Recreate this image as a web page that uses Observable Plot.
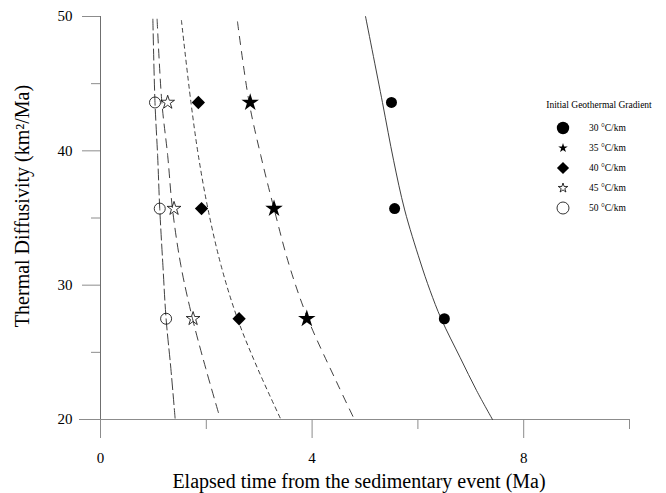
<!DOCTYPE html>
<html><head><meta charset="utf-8">
<script src="https://cdn.jsdelivr.net/npm/d3@7"></script>
<script src="https://cdn.jsdelivr.net/npm/@observablehq/plot@0.6"></script>
<style>
body{margin:0;background:#fff;}
#wrap{position:relative;width:666px;height:493px;}
#legend{position:absolute;left:540px;top:95px;}
</style></head><body><div id="wrap"></div>
<script>
// Measured points: thermal diffusivity (km²/Ma) vs elapsed time (Ma)
const diffusivity = [43.6, 35.7, 27.5];
const gradientLabels = ["30 °C/km", "35 °C/km", "40 °C/km", "45 °C/km", "50 °C/km"];
const time30 = [5.50, 5.56, 6.50];
const time35 = [2.83, 3.28, 3.90];
const time40 = [1.85, 1.91, 2.62];
const time45 = [1.27, 1.39, 1.75];
const time50 = [1.03, 1.12, 1.24];

// Model curves
const curveKappa30 = [50, 43.6, 39.3, 35.6, 31.8, 29.6, 27.5, 24.6, 22.15, 20];
const curveTime30  = [5.01, 5.33, 5.54, 5.75, 6.04, 6.23, 6.44, 6.80, 7.11, 7.41];
const curveKappa35 = [49.6, 43.6, 39.65, 35.7, 31.45, 27.5, 22.9, 20];
const curveTime35  = [2.59, 2.81, 3.03, 3.28, 3.57, 3.92, 4.45, 4.8];
const curveKappa40 = [49.7, 43.6, 39.65, 35.7, 31.45, 27.5, 23.8, 20];
const curveTime40  = [1.53, 1.71, 1.85, 2.03, 2.28, 2.59, 2.97, 3.41];
const curveKappa45 = [49.8, 43.6, 39.65, 35.7, 31.45, 27.5, 23.8, 20.5];
const curveTime45  = [1.07, 1.16, 1.27, 1.36, 1.52, 1.74, 1.99, 2.23];
const curveKappa50 = [49.8, 43.6, 39.65, 35.7, 31.45, 27.5, 23.8, 20.1];
const curveTime50  = [0.99, 1.03, 1.08, 1.12, 1.18, 1.24, 1.33, 1.41];

const xMajorTicks = [0, 4, 8];
const xMinorTicks = [2, 6, 10];
const yMajorTicks = [20, 30, 40, 50];
const yMinorTicks = [25, 35, 45];

const font = "Liberation Serif, 'DejaVu Serif', serif";
const axisColor = "#8c8c8c";
const lineColor = "#2a2a2a";

const pts = (ts, ks) => ts.map((t, i) => ({t, k: ks[i]}));
const curve = (ts, ks, dash) => Plot.line(pts(ts, ks), {
  x: "t", y: "k", curve: "catmull-rom", stroke: lineColor, strokeWidth: 0.9,
  strokeDasharray: dash
});

const chart = Plot.plot({
  width: 666, height: 493,
  marginLeft: 100, marginRight: 37, marginTop: 16, marginBottom: 74,
  style: {fontFamily: font, background: "#fff", color: "#000"},
  x: {domain: [0, 10]},
  y: {domain: [20, 50]},
  marks: [
    Plot.ruleY([20], {stroke: axisColor, insetLeft: -21}),
    Plot.ruleX([0], {stroke: "#6f6f6f", insetBottom: -18}),
    Plot.axisY({ticks: yMajorTicks, tickSize: 18, tickPadding: 10, fontSize: 15,
      stroke: axisColor, fill: "#000", label: null}),
    Plot.axisY({ticks: yMinorTicks, tickSize: 9, tickFormat: () => "",
      stroke: axisColor, label: null}),
    Plot.axisX({ticks: xMajorTicks, tickSize: 19, tickPadding: 14, fontSize: 15,
      stroke: axisColor, fill: "#000", label: null}),
    Plot.axisX({ticks: xMinorTicks, tickSize: 10, tickFormat: () => "",
      stroke: axisColor, label: null}),
    Plot.text(["Elapsed time from the sedimentary event (Ma)"], {
      frameAnchor: "bottom", textAnchor: "middle", lineAnchor: "middle",
      dx: -6, dy: 62, fontSize: 20, fill: "#000"}),
    Plot.text(["Thermal Diffusivity (km²/Ma)"], {
      frameAnchor: "left", textAnchor: "middle", lineAnchor: "middle",
      rotate: -90, dx: -78, dy: -12, fontSize: 20, fill: "#000"}),
    curve(curveTime30, curveKappa30, null),
    curve(curveTime35, curveKappa35, "8,7"),
    curve(curveTime40, curveKappa40, "4,4"),
    curve(curveTime45, curveKappa45, "9,6"),
    curve(curveTime50, curveKappa50, "11,4"),
    Plot.dot(diffusivity, {x: time30, y: diffusivity, symbol: "circle", r: 5.5, fill: "#000"}),
    Plot.dot(diffusivity, {x: time35, y: diffusivity, symbol: "star", r: 5.5, fill: "#000"}),
    Plot.dot(diffusivity, {x: time40, y: diffusivity, symbol: "diamond2", r: 6.0, fill: "#000"}),
    Plot.dot(diffusivity, {x: time45, y: diffusivity, symbol: "star", r: 4.3, fill: "none", stroke: "#000", strokeWidth: 0.8}),
    Plot.dot(diffusivity, {x: time50, y: diffusivity, symbol: "circle", r: 5.5, fill: "none", stroke: "#000", strokeWidth: 0.8})
  ]
});
document.getElementById("wrap").appendChild(chart);

// Legend overlay
const legendSymbols = [
  {sym: d3.symbolCircle, size: Math.PI * 6.2 * 6.2, fill: "#000", stroke: "none"},
  {sym: d3.symbolStar, size: 28, fill: "#000", stroke: "none"},
  {sym: d3.symbolDiamond2, size: 95, fill: "#000", stroke: "none"},
  {sym: d3.symbolStar, size: 28, fill: "none", stroke: "#000"},
  {sym: d3.symbolCircle, size: Math.PI * 6 * 6, fill: "none", stroke: "#000"}
];
const leg = d3.select("#wrap").append("div").attr("id", "legend")
  .append("svg").attr("width", 126).attr("height", 125)
  .style("font-family", font);
leg.append("text").attr("x", 59).attr("y", 10).attr("dy", "0.32em")
  .attr("text-anchor", "middle").attr("font-size", 9.5).text("Initial Geothermal Gradient");
gradientLabels.forEach((lab, i) => {
  const s = legendSymbols[i];
  const y = 33 + i * 20;
  leg.append("path").attr("transform", `translate(23,${y})`)
    .attr("d", d3.symbol(s.sym, s.size)())
    .attr("fill", s.fill).attr("stroke", s.stroke).attr("stroke-width", 0.8);
  leg.append("text").attr("x", 49).attr("y", y).attr("dy", "0.32em")
    .attr("font-size", 9.5).text(lab);
});
</script>
</body></html>
